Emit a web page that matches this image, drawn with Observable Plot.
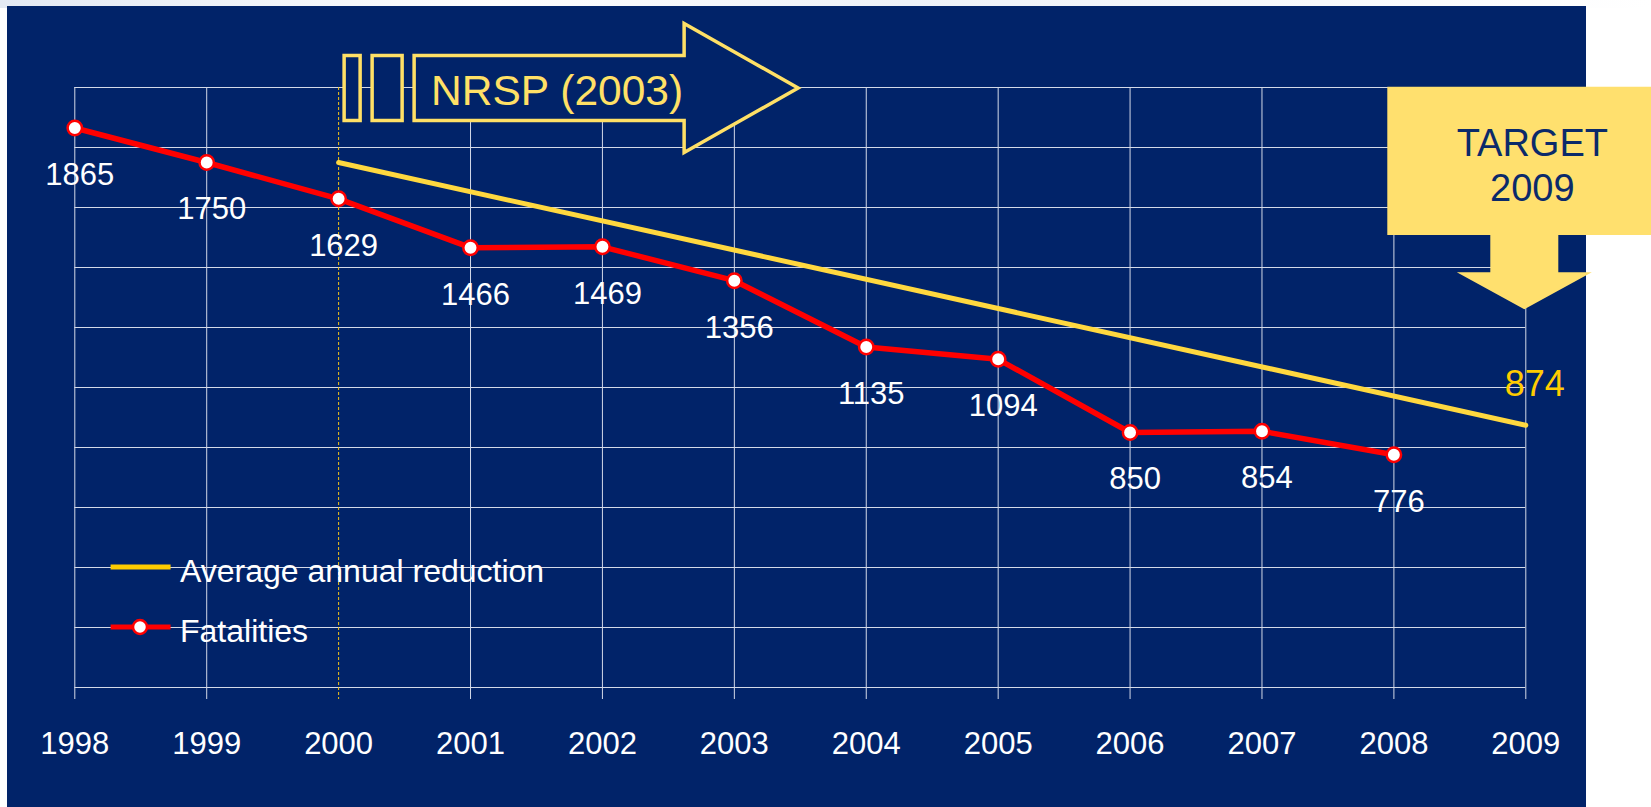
<!DOCTYPE html>
<html>
<head>
<meta charset="utf-8">
<script src="https://cdn.jsdelivr.net/npm/d3@7"></script>
<script src="https://cdn.jsdelivr.net/npm/@observablehq/plot@0.6"></script>
<style>
  html, body { margin: 0; padding: 0; background: #ffffff; }
  #wrap { position: relative; width: 1651px; height: 807px; overflow: hidden; background: #ffffff; }
  #topband { position: absolute; left: 0; top: 0; width: 1651px; height: 8px;
    background: linear-gradient(90deg, #e3e9f3 0%, #f3f6fa 18%, #fdfdfe 30%, #eef2f8 55%, #f7f9fc 80%, #ffffff 100%); }
  #bg { position: absolute; left: 7px; top: 6px; width: 1579px; height: 801px; background: #012369; }
  #chart { position: absolute; left: 0; top: 0; }
</style>
</head>
<body>
<div id="wrap"><div id="topband"></div><div id="bg"></div><div id="chart"></div></div>
<script>
// ---- data ----
const years = [1998, 1999, 2000, 2001, 2002, 2003, 2004, 2005, 2006, 2007, 2008];
const fatalities = [1865, 1750, 1629, 1466, 1469, 1356, 1135, 1094, 850, 854, 776];
const reductionYears = [2000, 2009];
const reductionValues = [1750, 874];
const axisYears = [1998, 1999, 2000, 2001, 2002, 2003, 2004, 2005, 2006, 2007, 2008, 2009];
const gridValues = [0, 200, 400, 600, 800, 1000, 1200, 1400, 1600, 1800, 2000];
const nrspYear = 2000;
const nrspLabel = "NRSP (2003)";
const targetYear = 2009;
const targetLines = ["TARGET", "2009"];
const legendLabels = ["Average annual reduction", "Fatalities"];
const legendValues = [400, 200];

// ---- styles ----
const NAVY = "#012369";
const GRID = "#d3d9e8";
const RED = "#ff0000";
const YELLOW = "#ffd83f";
const FONT = "'Liberation Sans', Arial, Helvetica, sans-serif";

const fat = years.map((y, i) => ({year: y, value: fatalities[i]}));
const red = reductionYears.map((y, i) => ({year: y, value: reductionValues[i]}));

const plot = Plot.plot({
  width: 1651,
  height: 807,
  marginLeft: 74.3,
  marginRight: 125.7,
  marginTop: 87,
  marginBottom: 120,
  style: {background: "transparent", fontFamily: FONT, overflow: "visible"},
  x: {domain: [1998, 2009]},
  y: {domain: [0, 2000], axis: null},
  marks: [
    Plot.ruleY(gridValues, {stroke: GRID, strokeWidth: 1}),
    Plot.ruleX(axisYears.filter(d => d !== nrspYear), {stroke: GRID, strokeWidth: 1, insetBottom: -12}),
    Plot.ruleX([nrspYear], {stroke: "#f5c518", strokeWidth: 1, strokeDasharray: "3,2", insetBottom: -12}),
    Plot.axisX({ticks: axisYears, tickSize: 0, tickPadding: 44, tickFormat: d => String(d),
      fontSize: 31, fill: "#ffffff", label: null}),
    Plot.line(red, {x: "year", y: "value", stroke: YELLOW, strokeWidth: 5}),
    Plot.line(fat, {x: "year", y: "value", stroke: RED, strokeWidth: 5.5}),
    Plot.dot(fat, {x: "year", y: "value", r: 7.2, fill: "#ffffff", stroke: RED, strokeWidth: 2.5}),
    Plot.text(fat, {x: "year", y: "value", text: d => String(d.value), dx: 5, dy: 47,
      fill: "#ffffff", fontSize: 31}),
    Plot.text(red.slice(-1), {x: "year", y: "value", text: d => String(d.value), dx: 9, dy: -41,
      fill: "#ffcc00", fontSize: 36})
  ]
});
document.getElementById("chart").appendChild(plot);

// ---- annotations positioned from the scales ----
const sx = plot.scale("x");
const sy = plot.scale("y");
const svg = d3.select(plot);
const ann = svg.append("g");

// NRSP arrow starting at the NRSP year
const x0 = sx.apply(nrspYear);
const cy = sy.apply(2000) + 1;
const bt = cy - 32.5, bb = cy + 32.5, ht = cy - 64.5, hb = cy + 64.5;
const ARROW = "#ffe066";
ann.append("rect").attr("x", x0 + 6).attr("y", bt).attr("width", 16).attr("height", bb - bt)
  .attr("fill", NAVY).attr("stroke", ARROW).attr("stroke-width", 3.5);
ann.append("rect").attr("x", x0 + 34).attr("y", bt).attr("width", 30).attr("height", bb - bt)
  .attr("fill", NAVY).attr("stroke", ARROW).attr("stroke-width", 3.5);
ann.append("path")
  .attr("d", `M${x0 + 76},${bt} H${x0 + 346} V${ht} L${x0 + 460},${cy} L${x0 + 346},${hb} V${bb} H${x0 + 76} Z`)
  .attr("fill", NAVY).attr("stroke", ARROW).attr("stroke-width", 3.5).attr("stroke-linejoin", "miter");
ann.append("text").attr("x", x0 + 93).attr("y", cy + 16.5).attr("text-anchor", "start")
  .attr("fill", ARROW).attr("font-size", 42.5).attr("font-family", FONT).text(nrspLabel);

// TARGET callout pointing at the target year
const xt = sx.apply(targetYear) - 1;
const boxTop = sy.apply(2000) - 0.3, boxBottom = 235, shaftBottom = 272.3, tipY = 309.3;
ann.append("path")
  .attr("d", `M1387.3,${boxTop} H1660 V${boxBottom} H${xt + 34} V${shaftBottom} H${xt + 67.5} L${xt},${tipY} L${xt - 67.5},${shaftBottom} H${xt - 34} V${boxBottom} H1387.3 Z`)
  .attr("fill", "#ffe06e");
targetLines.forEach((t, i) => {
  ann.append("text").attr("x", xt + 8).attr("y", 155.5 + i * 45)
    .attr("text-anchor", "middle").attr("fill", "#0b2a6a").attr("font-size", 38)
    .attr("font-family", FONT).text(t);
});

// Legend
const lg = svg.append("g");
legendLabels.forEach((label, i) => {
  const ly = sy.apply(legendValues[i]);
  const col = i === 0 ? "#ffcc00" : RED;
  lg.append("line").attr("x1", 110.6).attr("x2", 170.6).attr("y1", ly).attr("y2", ly)
    .attr("stroke", col).attr("stroke-width", 5);
  if (i === 1) {
    lg.append("circle").attr("cx", 140).attr("cy", ly).attr("r", 7)
      .attr("fill", "#ffffff").attr("stroke", RED).attr("stroke-width", 2.5);
  }
  lg.append("text").attr("x", 180).attr("y", ly + 15).attr("text-anchor", "start")
    .attr("fill", "#ffffff").attr("font-size", 32).attr("font-family", FONT).text(label);
});
</script>
</body>
</html>
